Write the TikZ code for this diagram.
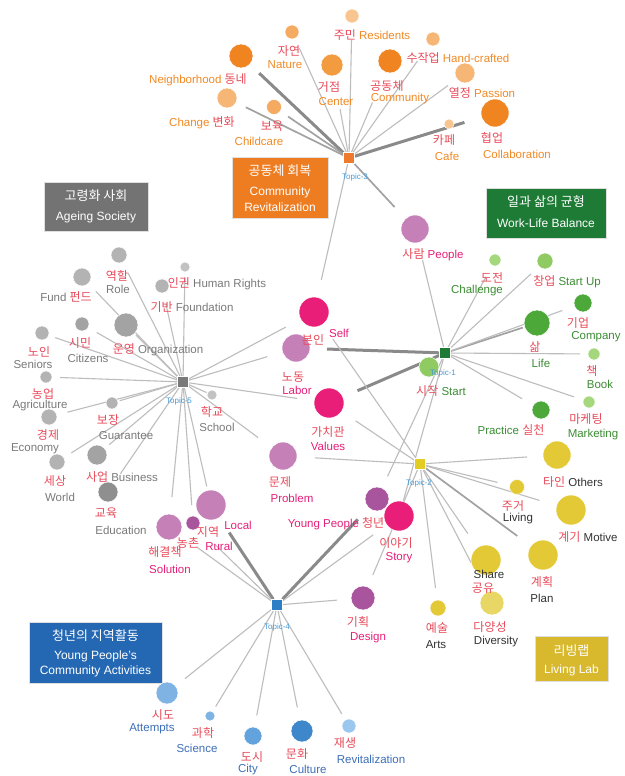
\documentclass[tikz,border=0pt]{standalone}
\usepackage{fontspec}
\setmainfont{Liberation Sans}
\newfontfamily\kr{Noto Sans CJK KR}
\pgfdeclarelayer{bgl}
\pgfdeclarelayer{edges}
\pgfsetlayers{bgl,edges,main}
% colours
\definecolor{krred}{HTML}{E84B5A}
\definecolor{eor}{HTML}{F08A24}
\definecolor{egr}{HTML}{7A7A7A}
\definecolor{epk}{HTML}{E6207A}
\definecolor{egn}{HTML}{3C8D33}
\definecolor{eyl}{HTML}{333333}
\definecolor{ebl}{HTML}{3E6FB8}
\definecolor{etp}{HTML}{4A9BD6}
\definecolor{edgec}{HTML}{BDBDBD}
\definecolor{edgem}{HTML}{A2A2A2}
\definecolor{edget}{HTML}{8A8A8A}
\definecolor{oA}{HTML}{EF8421}
\definecolor{oB}{HTML}{F29B3F}
\definecolor{oC}{HTML}{F4AA60}
\definecolor{oD}{HTML}{F6B676}
\definecolor{oE}{HTML}{F8C48F}
\definecolor{gA}{HTML}{8F8F8F}
\definecolor{gB}{HTML}{A3A3A3}
\definecolor{gC}{HTML}{B3B3B3}
\definecolor{gD}{HTML}{C2C2C2}
\definecolor{pk}{HTML}{E91E78}
\definecolor{pu}{HTML}{C680B8}
\definecolor{pd}{HTML}{A9559D}
\definecolor{gnL}{HTML}{A5D77C}
\definecolor{gnM}{HTML}{8FCB62}
\definecolor{gnD}{HTML}{4DA83A}
\definecolor{yA}{HTML}{E3C935}
\definecolor{yB}{HTML}{E8D764}
\definecolor{bA}{HTML}{7FB3E3}
\definecolor{bB}{HTML}{62A3DD}
\definecolor{bC}{HTML}{3E87CB}
\definecolor{bD}{HTML}{9BC6EE}
\definecolor{tO}{HTML}{EE7A2E}
\definecolor{tG}{HTML}{1E7B35}
\definecolor{tS}{HTML}{7A7A7A}
\definecolor{tY}{HTML}{E3CD25}
\definecolor{tB}{HTML}{2D7EC4}
\definecolor{boxO}{HTML}{EE7D22}
\definecolor{boxS}{HTML}{737373}
\definecolor{boxG}{HTML}{1E7B36}
\definecolor{boxB}{HTML}{2468B4}
\definecolor{boxY}{HTML}{D8B82C}
\newcommand{\K}[1]{{\kr\fontsize{12}{13}\selectfont\color{krred}#1}}
\newcommand{\KB}[1]{{\kr\fontsize{13}{15}\selectfont #1}}
\begin{document}
\begin{tikzpicture}[x=1pt,y=-1pt,
  nd/.style={circle,inner sep=0pt,minimum size=#1,draw=white,line width=0.5pt},
  tsq/.style={rectangle,inner sep=0pt,minimum size=11pt,draw=white,line width=0.5pt},
  lb/.style={inner sep=0pt,font=\fontsize{11.5}{13}\selectfont},
  tl/.style={inner sep=0pt,font=\fontsize{8}{9}\selectfont,text=etp},
  bx/.style={rectangle,inner sep=0pt,draw=white!75!gray,line width=0.6pt},
  bt/.style={inner sep=0pt,text=white,font=\fontsize{12}{14}\selectfont},
  edge/.style={draw=edgec,line width=1.1pt},
  medge/.style={draw=edgem,line width=1.7pt},
  tedge/.style={draw=edget,line width=3pt}]
\begin{pgfonlayer}{bgl}
\fill[white] (0,0) rectangle (624,776);
\end{pgfonlayer}
\useasboundingbox (0,0) rectangle (624,776);

% ---------- boxes
\node[bx,fill=boxO,minimum width=96pt,minimum height=61pt] (bxO) at (280,187.5) {};
\node[bt] (bxO1) at (280,171) {\KB{공동체 회복}};
\node[bt] (bxO2) at (280,192) {Community};
\node[bt] (bxO3) at (280,207) {Revitalization};
\node[bx,fill=boxS,minimum width=104pt,minimum height=49pt] (bxS) at (96,206.5) {};
\node[bt] (bxS1) at (96,196) {\KB{고령화 사회}};
\node[bt] (bxS2) at (96,217) {Ageing Society};
\node[bx,fill=boxG,minimum width=120pt,minimum height=50pt] (bxG) at (546,213) {};
\node[bt] (bxG1) at (546,202) {\KB{일과 삶의 균형}};
\node[bt] (bxG2) at (546,223) {Work-Life Balance};
\node[bx,fill=boxB,minimum width=133pt,minimum height=61pt] (bxB) at (95.5,652.5) {};
\node[bt] (bxB1) at (95.5,636) {\KB{청년의 지역활동}};
\node[bt] (bxB2) at (95.5,656) {Young People’s};
\node[bt] (bxB3) at (95.5,671) {Community Activities};
\node[bx,fill=boxY,minimum width=73pt,minimum height=45pt] (bxY) at (571.5,659) {};
\node[bt] (bxY1) at (571.5,651) {\KB{리빙랩}};
\node[bt] (bxY2) at (571.5,670) {Living Lab};

% ---------- topic squares
\node[tsq,fill=tO] (t3) at (349,158) {};
\node[tsq,fill=tG] (t1) at (445,353) {};
\node[tsq,fill=tS] (t5) at (183,382) {};
\node[tsq,fill=tY] (t2) at (420,464) {};
\node[tsq,fill=tB] (t4) at (277,605) {};

% ---------- orange circles
\node[nd=24pt,fill=oA] (nbh) at (241,56) {};
\node[nd=20pt,fill=oD] (chg) at (227,98) {};
\node[nd=15pt,fill=oC] (chc) at (274,107) {};
\node[nd=14pt,fill=oC] (nat) at (292,32) {};
\node[nd=22pt,fill=oB] (cen) at (332,65) {};
\node[nd=14pt,fill=oE] (res) at (352,16) {};
\node[nd=24pt,fill=oA] (com) at (390,61) {};
\node[nd=14pt,fill=oD] (hnd) at (433,39) {};
\node[nd=20pt,fill=oD] (pas) at (465,73) {};
\node[nd=28pt,fill=oA] (col) at (495,113) {};
% gray circles
\node[nd=16pt,fill=gC] (rol) at (119,255) {};
\node[nd=18pt,fill=gC] (fnd) at (82,277) {};
\node[nd=10pt,fill=gD] (hr) at (185,267) {};
\node[nd=14pt,fill=gC] (fou) at (162,286) {};
\node[nd=24pt,fill=gB] (org) at (126,325) {};
\node[nd=14pt,fill=gB] (cit) at (82,324) {};
\node[nd=14pt,fill=gC] (sen) at (42,333) {};
\node[nd=12pt,fill=gC] (agr) at (46,377) {};
\node[nd=16pt,fill=gC] (eco) at (49,417) {};
\node[nd=12pt,fill=gC] (gua) at (112,403) {};
\node[nd=16pt,fill=gC] (wld) at (57,462) {};
\node[nd=20pt,fill=gB] (bus) at (97,455) {};
\node[nd=20pt,fill=gA] (edu) at (108,492) {};
\node[nd=10pt,fill=gD] (sch) at (212,395) {};
% pink circles
\node[nd=30pt,fill=pk] (slf) at (314,312) {};
\node[nd=28pt,fill=pu] (lab) at (296,348) {};
\node[nd=30pt,fill=pk] (val) at (329,403) {};
\node[nd=28pt,fill=pu] (prb) at (283,456) {};
\node[nd=28pt,fill=pu] (ppl) at (415,229) {};
\node[nd=24pt,fill=pd] (yp) at (377,499) {};
\node[nd=30pt,fill=pk] (sty) at (399,516) {};
\node[nd=24pt,fill=pd] (dsg) at (363,598) {};
\node[nd=30pt,fill=pu] (loc) at (211,505) {};
\node[nd=26pt,fill=pu] (sol) at (169,527) {};
\node[nd=14pt,fill=pd] (rur) at (193,523) {};
% green circles
\node[nd=12pt,fill=gnL] (chl) at (495,260) {};
\node[nd=16pt,fill=gnM] (stu) at (545,261) {};
\node[nd=18pt,fill=gnD] (cmp) at (583,303) {};
\node[nd=26pt,fill=gnD] (lif) at (537,323) {};
\node[nd=12pt,fill=gnL] (bok) at (594,354) {};
\node[nd=12pt,fill=gnL] (mkt) at (589,402) {};
\node[nd=18pt,fill=gnD] (prc) at (541,410) {};
\node[nd=20pt,fill=gnM] (sta) at (429,367) {};
% yellow circles
\node[nd=28pt,fill=yA] (oth) at (557,455) {};
\node[nd=15pt,fill=yA] (liv) at (517,487) {};
\node[nd=30pt,fill=yA] (mot) at (571,510) {};
\node[nd=30pt,fill=yA] (pln) at (543,555) {};
\node[nd=30pt,fill=yA] (shr) at (486,560) {};
\node[nd=24pt,fill=yB] (div) at (492,603) {};
\node[nd=16pt,fill=yA] (art) at (438,608) {};
% blue circles
\node[nd=22pt,fill=bA] (att) at (167,693) {};
\node[nd=10pt,fill=bA] (sci) at (210,716) {};
\node[nd=18pt,fill=bB] (cty) at (253,736) {};
\node[nd=22pt,fill=bC] (cul) at (302,731) {};
\node[nd=14pt,fill=bD] (rev) at (349,726) {};
% cafe last (over thick line)
\node[nd=10pt,fill=oE] (caf) at (449,124) {};

% ---------- edges
\begin{pgfonlayer}{edges}
% Topic-3
\draw[tedge,shorten >=25pt] (t3) -- (nbh.center);
\draw[medge,shorten >=21pt] (t3) -- (chg.center);
\draw[medge,shorten >=17pt] (t3) -- (chc.center);
\draw[edge,shorten >=18pt] (t3) -- (nat.center);
\draw[edge,shorten >=45pt] (t3) -- (cen.center);
\draw[edge,shorten >=24pt] (t3) -- (res.center);
\draw[edge,shorten >=45pt] (t3) -- (com.center);
\draw[edge,shorten >=27pt] (t3) -- (hnd.center);
\draw[edge,shorten >=21pt] (t3) -- (pas.center);
\draw[tedge,shorten >=32pt] (t3) -- (col.center);
\draw[medge,shorten >=30pt] (t3) -- (ppl.center);
\draw[edge,shorten >=33pt] (t3) -- (slf.center);
% Topic-1
\draw[edge,shorten >=32pt] (t1) -- (ppl.center);
\draw[edge,shorten >=19pt] (t1) -- (chl.center);
\draw[edge,shorten >=19pt] (t1) -- (stu.center);
\draw[medge,shorten >=15pt] (t1) -- (lif.center);
\draw[edge,shorten >=22pt] (t1) -- (cmp.center);
\draw[edge,shorten >=14pt] (t1) -- (bok.center);
\draw[edge,shorten >=16pt] (t1) -- (mkt.center);
\draw[edge,shorten >=22pt] (t1) -- (prc.center);
\draw[tedge,shorten >=31pt] (t1) -- (lab.center);
\draw[tedge,shorten >=31pt] (t1) -- (val.center);
\draw[edge,shorten >=25pt] (t1) -- (yp.center);
\draw[edge,shorten >=16pt] (t1) -- (sty.center);
% Topic-5
\draw[edge,shorten >=20pt] (t5) -- (rol.center);
\draw[edge,shorten >=20pt] (t5) -- (fnd.center);
\draw[edge,shorten >=10pt] (t5) -- (hr.center);
\draw[edge,shorten >=18pt] (t5) -- (fou.center);
\draw[edge,shorten >=14pt] (t5) -- (org.center);
\draw[edge,shorten >=17pt] (t5) -- (cit.center);
\draw[edge,shorten >=14pt] (t5) -- (sen.center);
\draw[edge,shorten >=14pt] (t5) -- (agr.center);
\draw[edge,shorten >=19pt] (t5) -- (eco.center);
\draw[edge,shorten >=8pt] (t5) -- (gua.center);
\draw[edge,shorten >=17pt] (t5) -- (wld.center);
\draw[edge,shorten >=16pt] (t5) -- (bus.center);
\draw[edge,shorten >=22pt] (t5) -- (edu.center);
\draw[edge,shorten >=6pt] (t5) -- (sch.center);
\draw[edge,shorten >=32pt] (t5) -- (slf.center);
\draw[edge,shorten >=30pt] (t5) -- (lab.center);
\draw[edge,shorten >=32pt] (t5) -- (val.center);
\draw[edge,shorten >=31pt] (t5) -- (prb.center);
\draw[edge,shorten >=30pt] (t5) -- (sol.center);
\draw[edge,shorten >=18pt] (t5) -- (rur.center);
\draw[edge,shorten >=19pt] (t5) -- (loc.center);
% Topic-2
\draw[edge,shorten >=33pt] (t2) -- (slf.center);
\draw[edge,shorten >=32pt] (t2) -- (val.center);
\draw[edge,shorten >=32pt] (t2) -- (prb.center);
\draw[edge,shorten >=30pt] (t2) -- (oth.center);
\draw[edge,shorten >=20pt] (t2) -- (liv.center);
\draw[edge,shorten >=33pt] (t2) -- (mot.center);
\draw[medge,shorten >=32pt] (t2) -- (pln.center);
\draw[edge,shorten >=32pt] (t2) -- (shr.center);
\draw[edge,shorten >=45pt] (t2) -- (div.center);
\draw[edge,shorten >=20pt] (t2) -- (art.center);
\draw[edge,shorten >=25pt] (t2) -- (dsg.center);
% Topic-4
\draw[tedge,shorten >=33pt] (t4) -- (loc.center);
\draw[tedge,shorten >=28pt] (t4) -- (yp.center);
\draw[edge,shorten >=32pt] (t4) -- (sty.center);
\draw[edge,shorten >=26pt] (t4) -- (dsg.center);
\draw[edge,shorten >=30pt] (t4) -- (rur.center);
\draw[edge,shorten >=34pt] (t4) -- (sol.center);
\draw[edge,shorten >=23pt] (t4) -- (att.center);
\draw[edge,shorten >=11pt] (t4) -- (sci.center);
\draw[edge,shorten >=21pt] (t4) -- (cty.center);
\draw[edge,shorten >=24pt] (t4) -- (cul.center);
\draw[edge,shorten >=14pt] (t4) -- (rev.center);
\end{pgfonlayer}

% ---------- labels: orange
\node[lb,text=eor] (Lnbh) at (198,80) {Neighborhood \K{동네}};
\node[lb,text=eor] (Lchg) at (202,123) {Change \K{변화}};
\node[lb] (Kchc) at (272,126) {\K{보육}};
\node[lb,text=eor] (Lchc) at (259,141) {Childcare};
\node[lb] (Knat) at (289,51) {\K{자연}};
\node[lb,text=eor] (Lnat) at (285,65) {Nature};
\node[lb] (Kcen) at (329,87) {\K{거점}};
\node[lb,text=eor] (Lcen) at (336,102) {Center};
\node[lb,text=eor] (Lres) at (372,35) {\K{주민} Residents};
\node[lb] (Kcom) at (387,86) {\K{공동체}};
\node[lb,text=eor] (Lcom) at (400,99) {Community};
\node[lb,text=eor] (Lhnd) at (458,58) {\K{수작업} Hand-crafted};
\node[lb,text=eor] (Lpas) at (482,93) {\K{열정} Passion};
\node[lb] (Kcaf) at (444,140) {\K{카페}};
\node[lb,text=eor] (Lcaf) at (447,156) {Cafe};
\node[lb] (Kcol) at (492,138) {\K{협업}};
\node[lb,text=eor] (Lcol) at (517,154) {Collaboration};
\node[tl] (Lt3) at (355,177) {Topic-3};
% gray
\node[lb] (Krol) at (117,276) {\K{역할}};
\node[lb,text=egr] (Lrol) at (118,289) {Role};
\node[lb,text=egr] (Lfnd) at (66,297) {Fund \K{펀드}};
\node[lb,text=egr] (Lhr) at (217,284) {\K{인권} Human Rights};
\node[lb,text=egr] (Lfou) at (192,307) {\K{기반} Foundation};
\node[lb,text=egr] (Lorg) at (158,350) {\K{운영} Organization};
\node[lb] (Kcit) at (80,343) {\K{시민}};
\node[lb,text=egr] (Lcit) at (88,358) {Citizens};
\node[lb] (Ksen) at (39,352) {\K{노인}};
\node[lb,text=egr] (Lsen) at (33,364) {Seniors};
\node[lb] (Kagr) at (43,394) {\K{농업}};
\node[lb,text=egr] (Lagr) at (40,406) {Agriculture};
\node[lb] (Keco) at (48,435) {\K{경제}};
\node[lb,text=egr] (Leco) at (35,449) {Economy};
\node[lb] (Kgua) at (108,420) {\K{보장}};
\node[lb,text=egr] (Lgua) at (126,436) {Guarantee};
\node[lb] (Kwld) at (55,481) {\K{세상}};
\node[lb,text=egr] (Lwld) at (60,497) {World};
\node[lb,text=egr] (Lbus) at (122,477) {\K{사업} Business};
\node[lb] (Kedu) at (106,513) {\K{교육}};
\node[lb,text=egr] (Ledu) at (121,530) {Education};
\node[lb] (Ksch) at (212,412) {\K{학교}};
\node[lb,text=egr] (Lsch) at (217,427) {School};
\node[tl] (Lt5) at (179,401) {Topic-5};
% pink
\node[lb] (Kslf) at (313,340) {\K{본인}};
\node[lb,text=epk] (Lslf) at (339,333) {Self};
\node[lb] (Klab) at (293,377) {\K{노동}};
\node[lb,text=epk] (Llab) at (297,390) {Labor};
\node[lb] (Kval) at (328,432) {\K{가치관}};
\node[lb,text=epk] (Lval) at (328,446) {Values};
\node[lb] (Kprb) at (280,482) {\K{문제}};
\node[lb,text=epk] (Lprb) at (292,498) {Problem};
\node[lb,text=epk] (Lyp) at (336,524) {Young People \K{청년}};
\node[lb] (Ksty) at (396,543) {\K{이야기}};
\node[lb,text=epk] (Lsty) at (399,558) {Story};
\node[lb] (Kdsg) at (358,622) {\K{기획}};
\node[lb,text=epk] (Ldsg) at (368,638) {Design};
\node[lb,text=epk] (Lppl) at (433,255) {\K{사람} People};
\node[lb] (Kloc) at (208,532) {\K{지역}};
\node[lb,text=epk] (Lloc) at (238,525) {Local};
\node[lb] (Krur) at (188,543) {\K{농촌}};
\node[lb,text=epk] (Lrur) at (219,546) {Rural};
\node[lb] (Ksol) at (165,552) {\K{해결책}};
\node[lb,text=epk] (Lsol) at (170,569) {Solution};
% green
\node[lb] (Kchl) at (492,278) {\K{도전}};
\node[lb,text=egn] (Lchl) at (477,291) {Challenge};
\node[lb,text=egn] (Lstu) at (567,282) {\K{창업} Start Up};
\node[lb] (Kcmp) at (578,323) {\K{기업}};
\node[lb,text=egn] (Lcmp) at (596,337) {Company};
\node[lb] (Klif) at (535,347) {\K{삶}};
\node[lb,text=egn] (Llif) at (541,363) {Life};
\node[lb] (Kbok) at (592,371) {\K{책}};
\node[lb,text=egn] (Lbok) at (600,384) {Book};
\node[lb] (Kmkt) at (586,419) {\K{마케팅}};
\node[lb,text=egn] (Lmkt) at (593,435) {Marketing};
\node[lb,text=egn] (Lprc) at (511,430) {Practice \K{실천}};
\node[lb,text=egn] (Lsta) at (441,391) {\K{시작} Start};
\node[tl] (Lt1) at (443,373) {Topic-1};
% yellow
\node[lb,text=eyl] (Loth) at (573,482) {\K{타인} Others};
\node[lb] (Kliv) at (513,506) {\K{주거}};
\node[lb,text=eyl] (Lliv) at (518,519) {Living};
\node[lb,text=eyl] (Lmot) at (588,537) {\K{계기} Motive};
\node[lb] (Kpln) at (542,582) {\K{계획}};
\node[lb,text=eyl] (Lpln) at (542,598) {Plan};
\node[lb,text=eyl] (Lshr) at (489,574) {Share};
\node[lb] (Kshr) at (483,588) {\K{공유}};
\node[lb] (Kdiv) at (490,627) {\K{다양성}};
\node[lb,text=eyl] (Ldiv) at (496,642) {Diversity};
\node[lb] (Kart) at (437,628) {\K{예술}};
\node[lb,text=eyl] (Lart) at (436,645) {Arts};
\node[tl] (Lt2) at (419,483) {Topic-2};
% blue
\node[lb] (Katt) at (163,715) {\K{시도}};
\node[lb,text=ebl] (Latt) at (152,729) {Attempts};
\node[lb] (Ksci) at (203,733) {\K{과학}};
\node[lb,text=ebl] (Lsci) at (197,748) {Science};
\node[lb] (Kcty) at (252,757) {\K{도시}};
\node[lb,text=ebl] (Lcty) at (248,770) {City};
\node[lb] (Kcul) at (297,754) {\K{문화}};
\node[lb,text=ebl] (Lcul) at (308,769) {Culture};
\node[lb] (Krev) at (345,743) {\K{재생}};
\node[lb,text=ebl] (Lrev) at (371,759) {Revitalization};
\node[tl] (Lt4) at (277,627) {Topic-4};
\end{tikzpicture}
\end{document}
